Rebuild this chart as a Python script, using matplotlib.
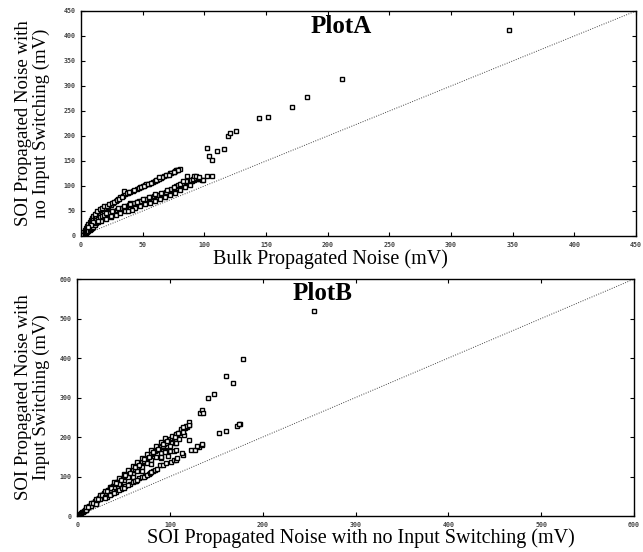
import matplotlib
matplotlib.use("Agg")
import matplotlib.pyplot as plt
import numpy as np

# ---- Plot A: bulk noise vs SOI noise (no input switching), mV
a_x = [0, 1, 1, 2, 2, 3, 3, 4, 4, 5, 5, 6, 6, 7, 7, 8, 8, 9, 9, 10, 10, 11, 12, 12,
       13, 14, 14, 15, 16, 17, 18, 19, 20, 21, 22,
       1, 2, 3, 4, 5, 6, 7, 8, 9, 10, 11, 12, 13, 14, 12, 10, 8, 6,
       24, 26, 28, 30, 32, 34, 36, 35, 38, 40, 42, 45, 48, 50, 52, 53, 55, 58, 62,
       65, 67, 70, 72, 75, 77, 80,
       11, 13, 15, 17, 19, 21, 23, 25, 27, 29, 31, 33, 37, 39, 43, 47, 49, 51, 54,
       57, 60, 63, 66, 69, 73, 76, 78,
       14, 16, 18, 20, 22, 24, 26, 28, 30, 32, 34, 36, 38, 40, 42, 44, 46, 48, 50,
       52, 54, 56, 58, 60, 62, 64, 66, 68, 70, 72, 74, 76, 78, 80, 82, 84, 86, 88,
       90, 92, 94, 96, 98,
       15, 17, 19, 21, 23, 25, 27, 29, 31, 33, 35, 37, 39, 41, 43, 45, 47, 49, 51,
       53, 55, 57, 59, 61, 63, 65, 67, 69, 71, 73, 75, 77, 79, 81, 83, 85, 87, 89,
       91, 93, 95,
       16, 20, 24, 28, 32, 36, 40, 44, 48, 52, 56, 60, 64, 68, 72, 76, 80, 84, 88,
       20, 25, 30, 35, 40, 45, 50, 55, 60, 65, 70, 75, 80, 85,
       40, 44, 41, 14, 24, 38,
       86, 92, 93, 99, 102, 106, 79, 75, 71, 61, 63, 83, 96,
       102, 104, 106, 110, 116, 119, 121, 126, 144, 152, 171, 183, 212, 347]
a_y = [0, 2, 5, 4, 8, 6, 12, 9, 15, 12, 20, 16, 24, 20, 28, 25, 32, 30, 36, 33, 40, 38, 44, 36,
       46, 40, 48, 42, 50, 44, 52, 46, 55, 48, 57,
       1, 2, 3, 5, 7, 9, 11, 13, 15, 18, 22, 26, 30, 28, 32, 28, 22, 18,
       62, 66, 70, 74, 77, 80, 84, 89, 86, 88, 90, 93, 97, 99, 102, 104, 103, 107, 112,
       116, 119, 122, 125, 127, 132, 133,
       44, 49, 53, 56, 59, 60, 63, 65, 68, 71, 74, 78, 85, 87, 92, 95, 98, 100, 103,
       105, 109, 114, 117, 121, 126, 129, 131,
       34, 36, 38, 40, 42, 44, 46, 48, 50, 52, 54, 56, 58, 60, 62, 63, 64, 66, 68,
       70, 71, 72, 74, 76, 78, 79, 81, 84, 86, 89, 91, 93, 96, 99, 101, 104, 106, 108,
       110, 111, 113, 114, 112,
       38, 40, 42, 44, 46, 47, 49, 52, 54, 56, 57, 59, 62, 64, 65, 67, 69, 70, 72,
       73, 75, 77, 79, 81, 82, 84, 86, 88, 91, 94, 96, 99, 101, 104, 106, 108, 110, 112,
       114, 115, 116,
       30, 34, 38, 42, 46, 50, 54, 57, 60, 64, 66, 70, 73, 77, 82, 86, 92, 97, 102,
       46, 50, 56, 60, 66, 68, 74, 77, 83, 85, 92, 97, 104, 110,
       64, 55, 52, 29, 39, 50,
       120, 119, 120, 112, 120, 120, 132, 127, 122, 112, 117, 110, 118,
       175, 160, 152, 170, 173, 200, 205, 210, 235, 237, 257, 277, 313, 412]

# ---- Plot B: SOI noise without vs with input switching, mV
b_x = [0, 1, 2, 3, 4, 5, 6, 7, 8, 9, 10, 11, 12, 13, 14, 15, 16, 17, 18, 19, 20,
       21, 22, 23, 24, 25, 26, 27, 28, 29, 30, 31, 32, 33, 34, 35, 36, 37, 38, 39,
       40, 41, 42, 43, 44, 45, 46, 47, 48, 49, 50, 52, 54, 56, 58, 60, 62, 64, 66,
       68, 70, 72, 74, 76, 78, 80, 82, 84, 86, 88, 90, 92, 94, 96, 98, 100, 102,
       104, 106, 108, 110, 112, 114, 116, 118, 120, 121,
       10, 15, 20, 25, 30, 35, 40, 45, 50, 55, 60, 65, 70, 75, 80, 85, 90, 95, 100,
       105, 110, 115,
       10, 15, 20, 25, 30, 35, 40, 45, 50, 55, 60, 65, 70, 75, 80, 85, 90, 95,
       12, 17, 22, 27, 32, 37, 42, 47, 52, 57, 62, 67, 72, 77, 82, 87, 92, 97, 102,
       107, 112, 117,
       20, 30, 40, 50, 60, 70, 80, 90, 100,
       32, 37, 42, 47, 52, 57, 63, 67, 73, 77, 82,
       30, 35, 40, 45, 48, 50, 55, 60, 62, 65, 70, 72, 75, 78, 80, 84, 86, 89, 92,
       96, 101, 104, 106, 108, 114, 123, 127, 131, 134, 135, 129, 153, 160, 172,
       175, 174,
       104, 107, 96, 90, 106, 105, 109, 114, 114, 120, 120, 95, 113, 98,
       132, 134, 136, 141, 147, 160, 168, 179, 255]
b_y = [0, 2, 3, 5, 7, 9, 11, 12, 15, 16, 19, 20, 22, 25, 26, 29, 30, 33, 34, 37, 38,
       41, 42, 45, 46, 49, 50, 53, 54, 57, 58, 61, 62, 65, 66, 69, 70, 73, 74, 77,
       78, 81, 82, 85, 86, 88, 90, 92, 93, 96, 97, 101, 104, 108, 112, 116, 120, 124, 128,
       132, 136, 140, 144, 148, 152, 156, 160, 164, 167, 171, 174, 178, 182, 186, 190, 194, 198,
       201, 204, 207, 210, 214, 218, 222, 226, 230, 239,
       16, 26, 34, 44, 53, 62, 71, 80, 89, 98, 106, 115, 124, 133, 142, 150, 159, 168, 177,
       186, 195, 204,
       22, 32, 43, 53, 64, 74, 85, 95, 106, 116, 126, 137, 147, 157, 168, 178, 188, 198,
       22, 33, 44, 52, 63, 71, 84, 91, 104, 110, 124, 130, 144, 150, 163, 170, 183, 190, 202,
       208, 220, 228,
       31, 48, 64, 82, 98, 114, 131, 148, 165,
       48, 55, 61, 68, 75, 81, 89, 95, 102, 106, 114,
       46, 52, 58, 65, 70, 72, 78, 85, 88, 92, 98, 100, 104, 108, 112, 116, 118, 128, 130,
       133, 137, 142, 142, 148, 154, 167, 168, 174, 180, 182, 176, 209, 215, 229,
       232, 234,
       164, 167, 165, 150, 184, 201, 209, 213, 226, 230, 192, 163, 159, 152,
       260, 268, 262, 300, 310, 354, 337, 397, 520]

a_ticks = [0, 50, 100, 150, 200, 250, 300, 350, 400, 450]
b_ticks = [0, 100, 200, 300, 400, 500, 600]

serif = "Liberation Serif"


def style_axes(ax, ticks):
    ax.set_xlim(ticks[0], ticks[-1])
    ax.set_ylim(ticks[0], ticks[-1])
    ax.set_xticks(ticks)
    ax.set_yticks(ticks)
    ax.tick_params(direction='in', length=3, width=0.8, top=True, right=True,
                   labelsize=4.8, pad=4, labelcolor='#444444')
    for lab in ax.get_xticklabels() + ax.get_yticklabels():
        lab.set_family('DejaVu Sans Mono')
        lab.set_weight('bold')
    for s in ax.spines.values():
        s.set_linewidth(1.0)


def scatter_panel(ax, x, y, ticks):
    ax.plot([ticks[0], ticks[-1]], [ticks[0], ticks[-1]], color='#444444',
            lw=0.7, ls=(0, (1, 1.5)))
    ax.plot(x, y, ls='none', marker='s', ms=3.5, mfc='white', mec='black', mew=1.0)
    style_axes(ax, ticks)


fig = plt.figure(figsize=(6.43, 5.52), dpi=100)

axA = fig.add_axes([0.126, 0.5725, 0.863, 0.4076])
scatter_panel(axA, a_x, a_y, a_ticks)
axA.text(0.468, 0.93, "PlotA", transform=axA.transAxes, ha='center', va='center',
         fontsize=18, fontweight='bold', family=serif)
axA.set_xlabel("Bulk Propagated Noise (mV)", fontsize=14.5, family=serif)
axA.xaxis.set_label_coords(0.45, -0.06)
axA.set_ylabel("SOI Propagated Noise with\nno Input Switching (mV)", fontsize=13.5,
               family=serif, linespacing=1.05)
axA.yaxis.set_label_coords(-0.056, 0.5)

axB = fig.add_axes([0.120, 0.0652, 0.866, 0.4293])
scatter_panel(axB, b_x, b_y, b_ticks)
axB.text(0.44, 0.937, "PlotB", transform=axB.transAxes, ha='center', va='center',
         fontsize=18, fontweight='bold', family=serif)
axB.set_xlabel("SOI Propagated Noise with no Input Switching (mV)", fontsize=14.5,
               family=serif)
axB.xaxis.set_label_coords(0.51, -0.05)
axB.set_ylabel("SOI Propagated Noise with\nInput Switching (mV)", fontsize=13.5,
               family=serif, linespacing=1.05)
axB.yaxis.set_label_coords(-0.048, 0.5)

fig.savefig("out.png", dpi=100)
